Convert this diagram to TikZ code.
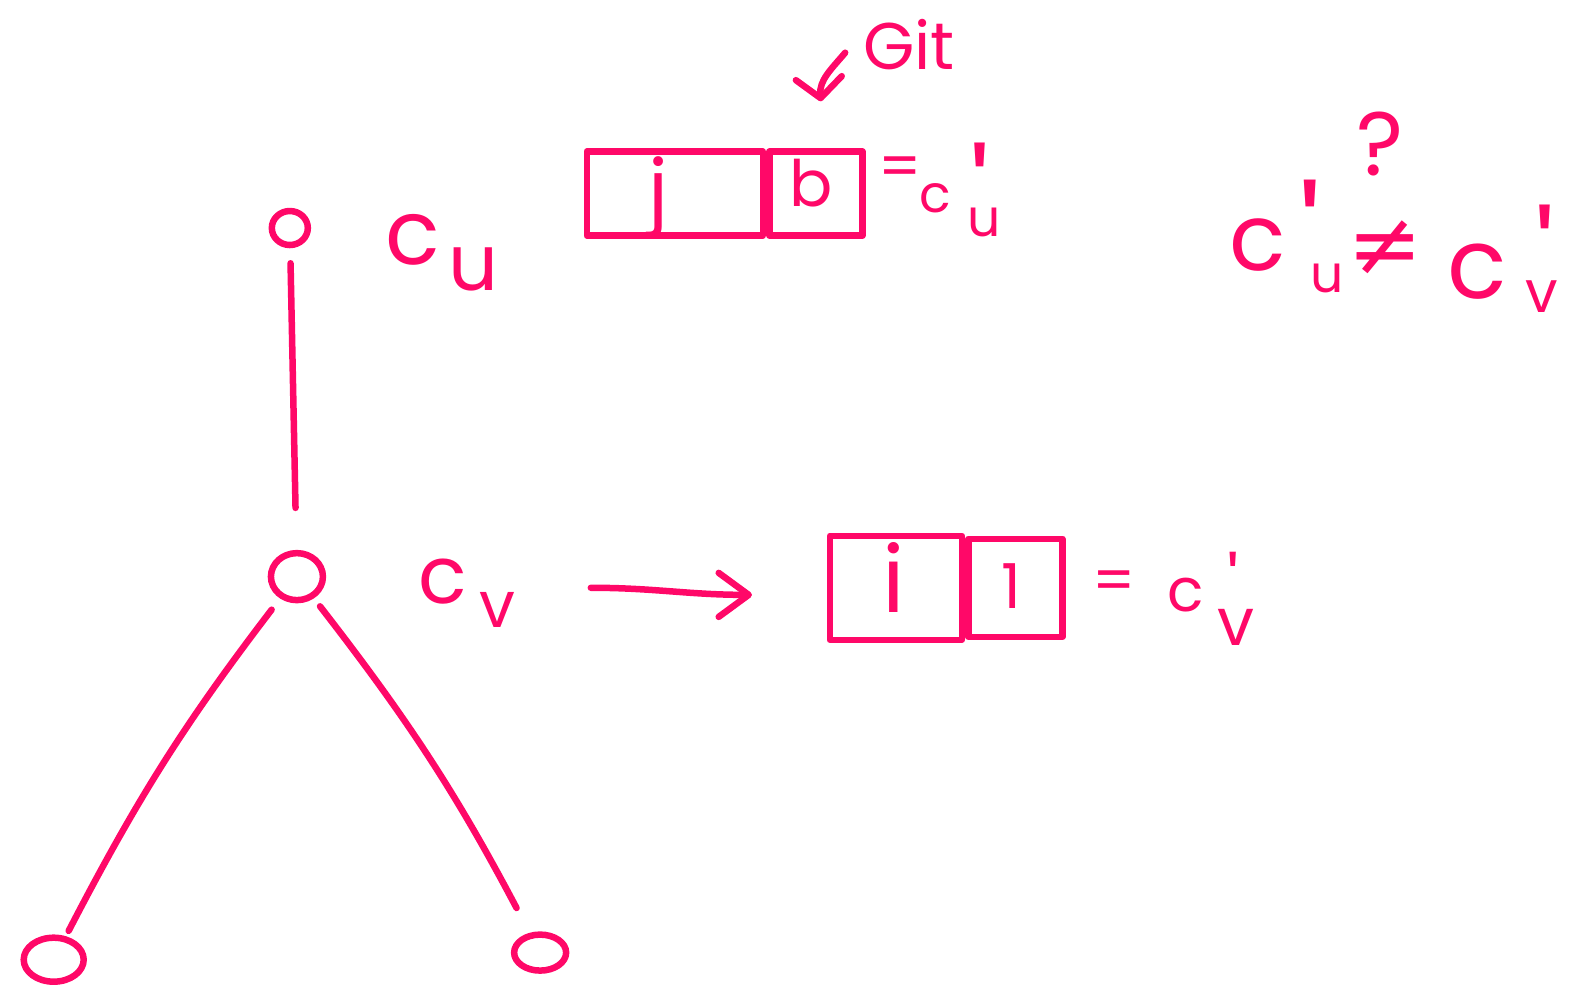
\documentclass[tikz,border=0pt]{standalone}
\usepackage{fontspec}
\usetikzlibrary{shapes.geometric,arrows.meta}
\newfontfamily\handfont{Poppins}
\newfontfamily\symfont{DejaVu Sans}
\definecolor{ink}{RGB}{255,8,104}
\newcommand{\fs}[1]{\fontsize{#1}{#1}\selectfont}
% an apostrophe whose box is trimmed to the mark itself
\newcommand{\tick}{\raisebox{\dimexpr0.25em-\height\relax}[0.25em][0pt]{'}}
% #1 letter, #2 size of the prime above it, #3 twice its sideways shift,
% #4 height of its top above the baseline
\newcommand{\withtick}[4]{\setbox0=\hbox{#1}%
  \rlap{\hbox to\wd0{\hss\hspace*{#3}{\fs{#2}\raisebox{\dimexpr#4-0.25em\relax}[0pt][0pt]{\tick}}\hss}}#1}
\tikzset{
  pen/.style={draw=ink, line width=6.5pt, line cap=round, line join=round},
  vertex/.style={pen, ellipse, inner sep=0pt},
  cell/.style={pen, rectangle, inner sep=0pt},
  glyph/.style={text=ink, inner sep=0pt, font=\handfont\fs{#1}},
  sglyph/.style={text=ink, inner sep=0pt, font=\symfont\fs{#1}},
  barb/.style={-{Straight Barb[length=30pt,width=44pt,round]}},
}
\begin{document}
\begin{tikzpicture}[x=1.0134pt,y=-1.0134pt]
\useasboundingbox (0,0) rectangle (1568,981);

% tree
\node[vertex, minimum width=36pt, minimum height=34pt] (top) at (286,225) {};
\node[vertex, minimum width=52pt, minimum height=47pt] (mid) at (293,569) {};
\node[vertex, minimum width=60pt, minimum height=44pt] (leafL) at (53,947) {};
\node[vertex, minimum width=52pt, minimum height=36pt] (leafR) at (533,940) {};
\draw[pen, shorten <=15pt, shorten >=42pt] (top) -- (mid);
\draw[pen, shorten <=14pt, shorten >=6pt] (mid) to[bend right=5] (leafL);
\draw[pen, shorten <=10pt, shorten >=28pt] (mid) to[bend left=5] (leafR);

% labels of the two tree nodes
\node[glyph=90] (cuc) at (407,237) {c};
\node[glyph=78] (cuu) at (467,266) {u};
\node[glyph=80] (cvc) at (437,574) {c};
\node[glyph=64] (cvv) at (491,602) {v};

% array for u
\node[cell, minimum width=176pt, minimum height=84pt] (aj) at (666,191) {};
\node[cell, minimum width=93pt, minimum height=84pt, anchor=west] (ab) at (aj.east) {};
\node[glyph=80] (jj) at (650,195) {j};
\node[glyph=64] (bb) at (800,181) {b};
\node[glyph=60] (eqa) at (888,170) {=};
\node[glyph=52] (cuc1) at (923,196) {c};
\node[glyph=52] (cuu1) at (971,220) {\withtick{u}{120}{-8pt}{94pt}};

% Git note
\node[glyph=66] (git) at (897,44) {Git};
\coordinate (gitS) at (834,52);
\coordinate (gitE) at (810,100);
\draw[pen, -{Straight Barb[length=20pt,width=46pt,round]}] (gitS) to[out=-130,in=95] (gitE);

% transformation arrow
\coordinate (arrS) at (583,580);
\coordinate (arrE) at (742,587);
\draw[pen, barb] (arrS) to[out=0,in=180] (arrE);

% array for v
\node[cell, minimum width=132pt, minimum height=104pt] (ai) at (884,580) {};
\node[cell, minimum width=94pt, minimum height=98pt, anchor=west] (a1) at (ai.east) {};
\node[glyph=92] (ii) at (882,570) {i};
\node[glyph=62] (one) at (998,578) {1};
\node[glyph=60] (eqb) at (1099,578) {=};
\node[glyph=60] (cvc1) at (1170,587) {c};
\node[glyph=66] (cvv1) at (1220,619) {\withtick{v}{72}{-6pt}{93pt}};

% comparison
\node[glyph=93] (cuc2) at (1241,242) {c};
\node[glyph=52] (cuu2) at (1310,275) {\withtick{u}{135}{-34pt}{113pt}};
\node[sglyph=90] (neq) at (1367,245) {≠};
\node[glyph=90] (qm) at (1362,142) {?};
\node[glyph=98] (cvc2) at (1458,268) {c};
\node[glyph=58] (cvv2) at (1521,293) {\withtick{v}{120}{8pt}{108pt}};
\end{tikzpicture}
\end{document}
